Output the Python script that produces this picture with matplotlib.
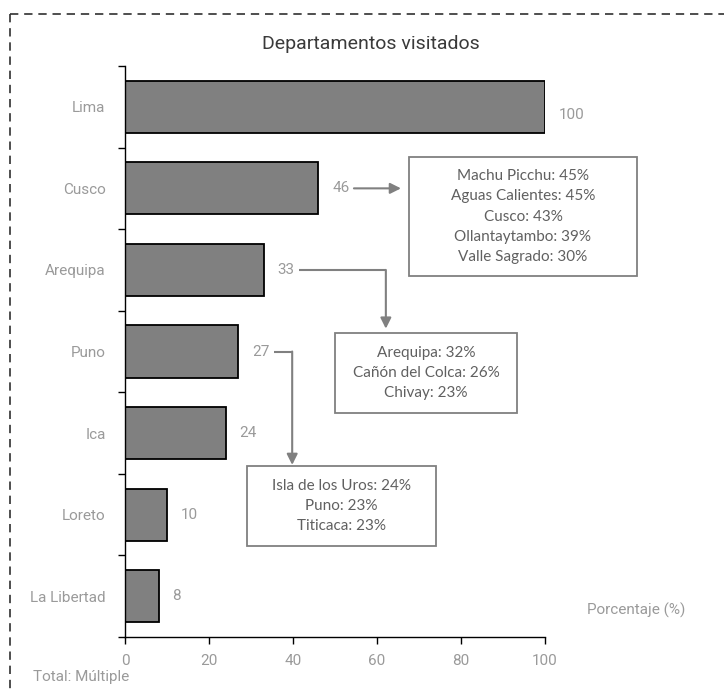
import matplotlib
matplotlib.use("Agg")
import matplotlib.pyplot as plt
from matplotlib.lines import Line2D
from matplotlib.patches import Rectangle

categorias = ['Lima', 'Cusco', 'Arequipa', 'Puno', 'Ica', 'Loreto', 'La Libertad']
valores = [100, 46, 33, 27, 24, 10, 8]

detalle_cusco = ['Machu Picchu: 45%', 'Aguas Calientes: 45%', 'Cusco: 43%',
                 'Ollantaytambo: 39%', 'Valle Sagrado: 30%']
detalle_arequipa = ['Arequipa: 32%', 'Cañón del Colca: 26%', 'Chivay: 23%']
detalle_puno = ['Isla de los Uros: 24%', 'Puno: 23%', 'Titicaca: 23%']

narrow = ['Roboto', 'DejaVu Sans']
box_font = ['Lato', 'DejaVu Sans']
gris = '#9A9A9A'
gris_linea = '#808080'
lbl = dict(family=narrow, fontsize=11, color=gris)

fig = plt.figure(figsize=(7.24, 6.94), dpi=100)
ax = fig.add_axes([0.1727, 0.0821, 0.5801, 0.8228])

y = range(len(categorias))
ax.barh(y, valores, height=0.64, color='#808080', edgecolor='black', linewidth=1.3)
ax.set_xlim(0, 100)
ax.set_ylim(len(categorias) - 0.5, -0.5)

for s in ['top', 'right']:
    ax.spines[s].set_visible(False)
ax.spines['left'].set_linewidth(1.0)
ax.spines['bottom'].set_linewidth(1.0)

ax.set_yticks([i + 0.5 for i in range(-1, len(categorias))])
ax.set_yticklabels([])
ax.tick_params(axis='y', length=5, width=1.0, direction='out')
ax.set_yticks(list(y), minor=True)
ax.set_yticklabels(categorias, minor=True, **lbl)
ax.tick_params(axis='y', which='minor', length=0, pad=14)

ax.set_xticks([0, 20, 40, 60, 80, 100])
ax.tick_params(axis='x', length=5, width=1.0, colors='black', pad=7)
ax.set_xticklabels([str(t) for t in [0, 20, 40, 60, 80, 100]], **lbl)

for i, v in enumerate(valores):
    dy = 0.1 if i == 0 else 0
    ax.text(v + 3.3, i + dy, str(v), va='center', ha='left', **lbl)

fig.text(371 / 724, 1 - 44 / 694, 'Departamentos visitados', ha='center', va='center',
         fontsize=14, color='#3A3A3A', family=narrow)

# flechas hacia los recuadros
arrow_kw = dict(arrowstyle='-|>', color=gris_linea, lw=1.5, mutation_scale=16, shrinkA=0, shrinkB=0)
v = valores[1]
ax.annotate('', xy=(65.7, 1), xytext=(v + 8.5, 1), arrowprops=arrow_kw, annotation_clip=False)

v = valores[2]
ax.plot([v + 8.5, 62.1], [2, 2], color=gris_linea, lw=1.5, clip_on=False, solid_capstyle='butt')
ax.annotate('', xy=(62.1, 2.72), xytext=(62.1, 2), arrowprops=arrow_kw, annotation_clip=False)

v = valores[3]
ax.plot([v + 8.5, 39.8], [3, 3], color=gris_linea, lw=1.5, clip_on=False, solid_capstyle='butt')
ax.annotate('', xy=(39.8, 4.39), xytext=(39.8, 3), arrowprops=arrow_kw, annotation_clip=False)

# recuadros de detalle
recuadros = [
    (67.6, 0.616, 121.9, 2.074, detalle_cusco),
    (50.0, 2.773, 93.3, 3.754, detalle_arequipa),
    (29.0, 4.404, 74.0, 5.385, detalle_puno),
]
for x0, y0, x1, y1, lineas in recuadros:
    ax.add_patch(Rectangle((x0, y0), x1 - x0, y1 - y0, fill=False, edgecolor=gris_linea,
                           lw=1.3, clip_on=False))
    ax.text((x0 + x1) / 2, (y0 + y1) / 2, '\n'.join(lineas), ha='center', va='center',
            color='#606060', fontsize=11, family=box_font, linespacing=1.55, clip_on=False)

fig.text(636 / 724, 1 - 610 / 694, 'Porcentaje (%)', ha='center', va='center', **lbl)
fig.text(33 / 724, 1 - 677 / 694, 'Total: Múltiple', ha='left', va='center', **lbl)

# borde punteado
dash = dict(color='#303030', lw=1.2, linestyle=(0, (5, 3.5)))
fig.add_artist(Line2D([10 / 724, 1.0], [1 - 14 / 694, 1 - 14 / 694], transform=fig.transFigure, **dash))
fig.add_artist(Line2D([10 / 724, 10 / 724], [1 - 14 / 694, 0.0], transform=fig.transFigure, **dash))

fig.savefig('out.png', dpi=100)
